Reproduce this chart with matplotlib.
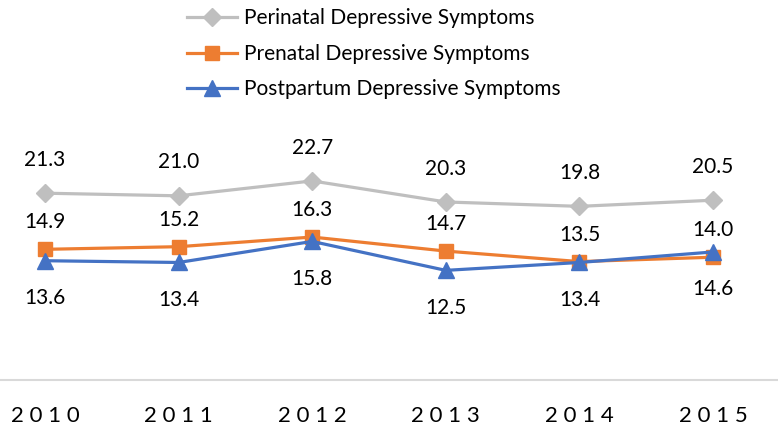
import matplotlib.pyplot as plt

plt.rcParams['font.family'] = ['Lato', 'DejaVu Sans']

# Data
years = ['2010', '2011', '2012', '2013', '2014', '2015']
perinatal = [21.3, 21.0, 22.7, 20.3, 19.8, 20.5]
prenatal = [14.9, 15.2, 16.3, 14.7, 13.5, 14.0]
postpartum = [13.6, 13.4, 15.8, 12.5, 13.4, 14.6]

fig = plt.figure(figsize=(7.78, 4.32), dpi=100)
ax = fig.add_axes([0, 0.1204, 1, 0.609])

x = list(range(len(years)))
l1, = ax.plot(x, perinatal, color='#BFBFBF', lw=2.3, marker='D', ms=9,
              label='Perinatal Depressive Symptoms')
l2, = ax.plot(x, prenatal, color='#ED7D31', lw=2.3, marker='s', ms=10,
              label='Prenatal Depressive Symptoms')
l3, = ax.plot(x, postpartum, color='#4472C4', lw=2.3, marker='^', ms=12,
              label='Postpartum Depressive Symptoms')

# data labels
for xi, v in zip(x, perinatal):
    ax.annotate(f'{v:.1f}', (xi, v), xytext=(0, 24), textcoords='offset points',
                ha='center', va='center', fontsize=15, color='#000000')
for xi, v in zip(x, prenatal):
    ax.annotate(f'{v:.1f}', (xi, v), xytext=(0, 19.5), textcoords='offset points',
                ha='center', va='center', fontsize=15, color='#000000')
for xi, v in zip(x, postpartum):
    ax.annotate(f'{v:.1f}', (xi, v), xytext=(0, -27), textcoords='offset points',
                ha='center', va='center', fontsize=15, color='#000000')

ax.set_ylim(0, 30)
ax.set_xlim(-45 / 133.6, 5 + 65 / 133.6)
ax.set_xticks(x)
ax.set_xticklabels([' '.join(y) for y in years], fontsize=16)
ax.tick_params(axis='x', length=0, pad=19)
ax.set_yticks([])

for s in ['top', 'left', 'right']:
    ax.spines[s].set_visible(False)
ax.spines['bottom'].set_color('#D9D9D9')
ax.spines['bottom'].set_linewidth(1.5)

fig.legend(handles=[l1, l2, l3], loc='upper left', bbox_to_anchor=(174 / 778, 1.01),
           frameon=False, fontsize=15, handlelength=2.4, handletextpad=0.35,
           labelspacing=0.75, borderaxespad=0.2)

fig.savefig('out.png', dpi=100)
